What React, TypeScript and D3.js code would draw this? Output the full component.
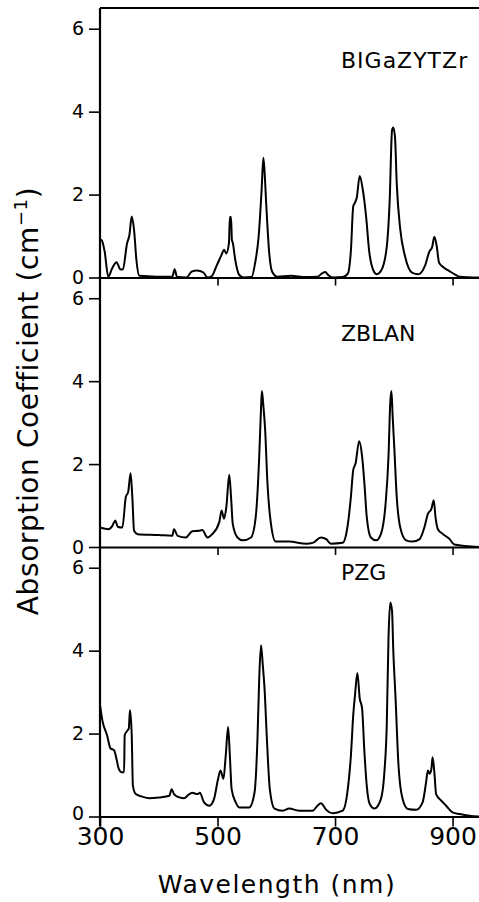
import { useRef, useEffect } from "react";
import * as d3 from "d3";

// [wavelength nm, absorption cm^-1]
const bigaData: [number, number][] = [
  [300, 0.92], [303, 0.9], [308, 0.62], [314, 0.02], [321, 0.23], [328, 0.37], [335, 0.19],
  [339, 0.2], [346, 0.82], [350, 1.02], [354, 1.47], [358, 1.14], [362, 0.42], [367, 0.04],
  [396, 0.02], [423, 0.02], [427, 0.2], [431, 0.02], [447, 0], [456, 0.14], [465, 0.17],
  [476, 0.12], [483, 0], [490, 0.03], [498, 0.27], [507, 0.55], [511, 0.67], [515, 0.58],
  [519.5, 0.84], [521, 1.46], [523, 1.46], [524.5, 0.9], [526, 0.84], [530, 0.44], [537, 0.06],
  [544, 0], [558, 0.01], [564, 0.35], [570, 0.99], [575, 2.1], [578, 2.89], [580, 2.56],
  [583, 1.74], [588, 0.59], [593, 0.14], [602, 0.02], [625, 0.04], [650, 0.01], [670, 0.02],
  [678, 0.1], [683, 0.13], [689, 0.05], [696, 0], [713, 0.01], [722, 0.1], [727, 0.65],
  [731, 1.72], [733, 1.78], [737, 1.93], [742, 2.45], [747, 2.14], [753, 1.45], [758, 0.65],
  [765, 0.18], [771, 0.08], [779, 0.18], [788, 0.74], [793, 1.86], [797, 3.55], [799, 3.62],
  [802, 3.4], [805, 2.27], [811, 1.16], [819, 0.52], [831, 0.12], [842, 0.08], [853, 0.28],
  [861, 0.64], [865, 0.72], [869, 0.98], [873, 0.76], [877, 0.36], [885, 0.24], [894, 0.16],
  [903, 0.08], [912, 0.02], [945, 0],
];

const zblanData: [number, number][] = [
  [300, 0.47], [315, 0.43], [321, 0.51], [326, 0.64], [330, 0.49], [338, 0.47], [344, 1.21],
  [348, 1.33], [352, 1.78], [355, 1.21], [358, 0.39], [364, 0.31], [400, 0.29], [423, 0.27],
  [426, 0.43], [432, 0.27], [446, 0.23], [457, 0.38], [468, 0.39], [474, 0.41], [483, 0.23],
  [491, 0.31], [503, 0.6], [507, 0.88], [511, 0.68], [515, 0.96], [520, 1.74], [523, 1.21],
  [526, 0.55], [534, 0.23], [543, 0.16], [557, 0.23], [565, 0.72], [571, 2.19], [574, 3.33],
  [575.5, 3.76], [578, 3.41], [581, 2.84], [585, 1.53], [591, 0.55], [599, 0.13], [622, 0.13],
  [651, 0.08], [662, 0.1], [676, 0.23], [685, 0.19], [693, 0.08], [713, 0.1], [721, 0.47],
  [727, 1.21], [731, 1.86], [735, 2.02], [741, 2.55], [746, 2.19], [750, 1.53], [754, 0.72],
  [761, 0.23], [770, 0.16], [778, 0.31], [786, 1.04], [791, 2.19], [794, 3.49], [796, 3.76],
  [798, 3.17], [801, 2.35], [805, 1.21], [811, 0.47], [821, 0.16], [832, 0.13], [844, 0.19],
  [852, 0.47], [858, 0.8], [864, 0.92], [868, 1.13], [871, 0.72], [875, 0.43], [884, 0.31],
  [895, 0.19], [903, 0.06], [945, 0],
];

const pzgData: [number, number][] = [
  [300, 2.69], [304, 2.32], [312, 1.96], [318, 1.64], [324, 1.6], [328, 1.39], [332, 1.15],
  [337, 1.07], [341, 1.07], [342, 1.96], [347, 2.08], [349, 2.12], [351, 2.57], [354, 1.96],
  [356, 0.74], [361, 0.54], [369, 0.49], [384, 0.44], [401, 0.46], [418, 0.5], [422, 0.66],
  [426, 0.54], [435, 0.46], [443, 0.44], [452, 0.54], [457, 0.57], [466, 0.54], [470, 0.57],
  [477, 0.34], [486, 0.26], [494, 0.42], [501, 0.91], [505, 1.11], [510, 0.91], [514, 1.47],
  [518, 2.16], [521, 1.47], [524, 0.66], [531, 0.34], [537, 0.22], [554, 0.22], [563, 0.58],
  [568, 1.88], [571, 3.34], [574, 4.13], [577, 3.66], [580, 3.09], [584, 1.88], [589, 0.66],
  [597, 0.19], [611, 0.14], [622, 0.19], [639, 0.14], [662, 0.14], [670, 0.26], [676, 0.32],
  [685, 0.16], [696, 0.08], [713, 0.14], [721, 0.58], [727, 1.47], [731, 2.45], [734, 2.93],
  [738, 3.46], [742, 2.85], [746, 2.61], [750, 1.55], [754, 0.74], [759, 0.3], [767, 0.19],
  [778, 0.42], [784, 1.07], [788, 2.2], [791, 4.31], [794, 5.16], [797, 4.96], [799, 4.06],
  [803, 2.85], [808, 1.23], [815, 0.42], [824, 0.18], [838, 0.16], [849, 0.34], [855, 0.83],
  [858, 1.11], [861, 1.03], [864, 1.15], [866, 1.43], [869, 1.07], [872, 0.54], [881, 0.38],
  [889, 0.26], [900, 0.1], [912, 0.06], [929, 0.02], [945, 0],
];

const panelNames = ["BIGaZYTZr", "ZBLAN", "PZG"];
const panelData = [bigaData, zblanData, pzgData];
const yTicks = [0, 2, 4, 6];
const xTicks = [300, 500, 700, 900];

const FONT = "DejaVu Sans, sans-serif";

export default function App() {
  const svgRef = useRef<SVGSVGElement | null>(null);

  useEffect(() => {
    const svg = d3.select(svgRef.current);
    svg.selectAll("*").remove();

    const left = 100;
    const right = 479;
    const top0 = 8;
    const panelH = 269.5;

    const x = d3.scaleLinear().domain([300, 945]).range([left, right]);

    panelData.forEach((data, i) => {
      const top = top0 + i * panelH;
      const bottom = top + panelH;
      const y = d3.scaleLinear().domain([0, 6.5]).range([bottom, top]);
      const isLast = i === panelData.length - 1;

      // y axis ticks
      const ya = svg
        .append("g")
        .attr("transform", `translate(${left},0)`)
        .call(
          d3.axisLeft(y).tickValues(yTicks).tickSize(11).tickSizeOuter(0).tickPadding(5)
            .tickFormat(d3.format("d"))
        );
      ya.select(".domain").remove();
      ya.selectAll("line").attr("stroke", "#000").attr("stroke-width", 1.6);
      ya.selectAll<SVGTextElement, number>("text")
        .attr("font-family", FONT)
        .attr("font-size", 19)
        .attr("fill", "#000")
        // bottom "0" sits just above the wavelength labels
        .attr("y", (d) => (isLast && d === 0 ? -3 : 0));

      // x axis at panel bottom
      const xa = svg
        .append("g")
        .attr("transform", `translate(0,${bottom})`)
        .call(
          d3.axisBottom(x)
            .tickValues(isLast ? xTicks : xTicks.slice(1))
            .tickSize(isLast ? 10 : 8)
            .tickSizeOuter(0)
            .tickPadding(1)
            .tickFormat((d) => (isLast ? String(d) : ""))
        );
      xa.select(".domain").attr("stroke", "#000").attr("stroke-width", 2.2);
      xa.selectAll("line").attr("stroke", "#000").attr("stroke-width", 1.6);
      xa.selectAll("text")
        .attr("font-family", FONT)
        .attr("font-size", 25)
        .attr("fill", "#000");

      // spectrum
      const line = d3
        .line<[number, number]>()
        .x((d) => x(d[0]))
        .y((d) => y(d[1]))
        .curve(d3.curveMonotoneX);
      svg
        .append("path")
        .datum(data)
        .attr("d", line)
        .attr("fill", "none")
        .attr("stroke", "#000")
        .attr("stroke-width", 2)
        .attr("stroke-linejoin", "round");

      // sample name
      const labelY = [68, 341, 580][i];
      svg
        .append("text")
        .attr("x", 341)
        .attr("y", labelY)
        .attr("font-family", FONT)
        .attr("font-size", 22)
        .attr("letter-spacing", i === 0 ? 1 : 0)
        .attr("fill", "#000")
        .text(panelNames[i]);
    });

    // frame: left spine and top line
    svg
      .append("line")
      .attr("x1", left).attr("x2", left)
      .attr("y1", top0).attr("y2", top0 + 3 * panelH + 10)
      .attr("stroke", "#000").attr("stroke-width", 2.2);
    svg
      .append("line")
      .attr("x1", left).attr("x2", right)
      .attr("y1", top0).attr("y2", top0)
      .attr("stroke", "#000").attr("stroke-width", 2);

    // axis titles
    svg
      .append("text")
      .attr("x", 277)
      .attr("y", 893)
      .attr("text-anchor", "middle")
      .attr("font-family", FONT)
      .attr("font-size", 25)
      .attr("letter-spacing", 1.5)
      .attr("fill", "#000")
      .text("Wavelength (nm)");

    const yt = svg
      .append("text")
      .attr("transform", "translate(38,401) rotate(-90)")
      .attr("text-anchor", "middle")
      .attr("font-family", FONT)
      .attr("font-size", 28)
      .attr("letter-spacing", 0.6)
      .attr("fill", "#000");
    yt.append("tspan").text("Absorption Coefficient (cm");
    yt.append("tspan").attr("dy", -11).attr("font-size", 18).text("−1");
    yt.append("tspan").attr("dy", 11).text(")");
  }, []);

  return (
    <svg
      ref={svgRef}
      width={479}
      height={902}
      style={{ position: "absolute", top: 0, left: 0, background: "#fff" }}
    />
  );
}
